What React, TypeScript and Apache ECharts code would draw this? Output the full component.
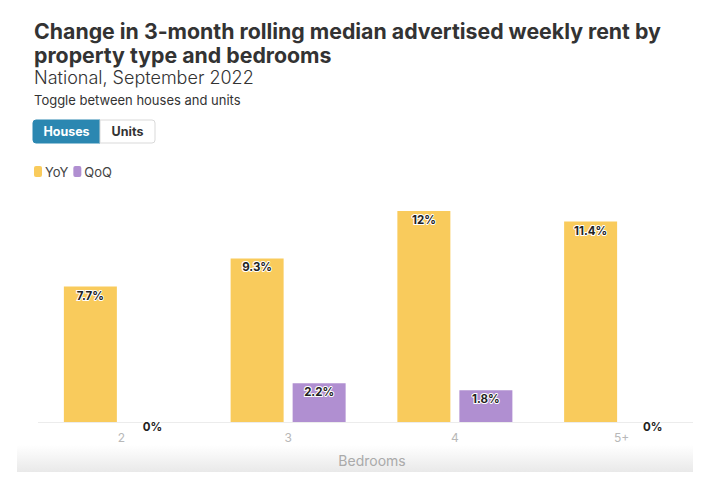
import React, { useEffect, useRef } from "react";
import * as echarts from "echarts";

const categories = ["2", "3", "4", "5+"];
const yoyValues = [7.7, 9.3, 12, 11.4];
const qoqValues = [0, 2.2, 1.8, 0];
const seriesNames = ["YoY", "QoQ"];
const titleLines = [
  "Change in 3-month rolling median advertised weekly rent by",
  "property type and bedrooms",
];
const subtitle = "National, September 2022";
const toggleNote = "Toggle between houses and units";
const toggleOptions = ["Houses", "Units"];
const axisName = "Bedrooms";

const FONT = "Inter, 'Open Sans', sans-serif";
const YELLOW = "#F9CB5C";
const PURPLE = "#B08FD1";

export default function App() {
  const ref = useRef<HTMLDivElement>(null);
  useEffect(() => {
    if (!ref.current) return;
    const chart = echarts.init(ref.current, undefined, { renderer: "svg" });
    const label = {
      show: true,
      position: "insideTop",
      distance: 3,
      formatter: (p: any) => `${p.value}%`,
      fontFamily: FONT,
      fontWeight: 700,
      fontSize: 11.5,
      color: "#222",
      textBorderColor: "#fff",
      textBorderWidth: 2,
    };
    const withZeroLabel = (vals: number[]) =>
      vals.map((v) => (v === 0 ? { value: v, label: { offset: [0, -4] } } : v));
    chart.setOption({
      animation: false,
      textStyle: { fontFamily: FONT },
      grid: { left: 38, top: 211, width: 667, bottom: 59, containLabel: false },
      legend: {
        left: 34,
        top: 165,
        padding: 0,
        itemWidth: 8,
        itemHeight: 11,
        itemGap: 5,
        icon: "roundRect",
        textStyle: { fontSize: 13, color: "#444", fontFamily: FONT, padding: [0, 0, 0, -2] },
        data: seriesNames,
      },
      xAxis: {
        type: "category",
        data: categories,
        axisLine: { show: false },
        axisTick: { show: false },
        axisLabel: { color: "#b8b8b8", fontSize: 12, margin: 9, fontFamily: FONT },
      },
      yAxis: {
        type: "value",
        min: 0,
        max: 12,
        show: false,
        splitLine: { show: false },
      },
      series: [
        {
          name: seriesNames[0],
          type: "bar",
          data: withZeroLabel(yoyValues),
          barWidth: 53,
          barGap: "17%",
          itemStyle: { color: YELLOW },
          label,
        },
        {
          name: seriesNames[1],
          type: "bar",
          data: withZeroLabel(qoqValues),
          barWidth: 53,
          itemStyle: { color: PURPLE },
          label,
        },
      ],
      graphic: [
        {
          type: "rect",
          z: -1,
          shape: { x: 17, y: 445, width: 676, height: 27 },
          style: {
            fill: new echarts.graphic.LinearGradient(0, 0, 0, 1, [
              { offset: 0, color: "#ffffff" },
              { offset: 1, color: "#e9e9e9" },
            ]),
          },
        },
        {
          type: "line",
          z: 0,
          shape: { x1: 38, y1: 422.5, x2: 693, y2: 422.5 },
          style: { stroke: "#ececec", lineWidth: 1 },
        },
        {
          type: "text",
          x: 372,
          y: 460,
          style: {
            text: axisName,
            fill: "#aaa",
            font: `14px ${FONT}`,
            align: "center",
            verticalAlign: "middle",
          },
        },
        {
          type: "text",
          x: 34,
          y: 19,
          style: {
            text: titleLines.join("\n"),
            fill: "#333",
            font: `bold 21.3px ${FONT}`,
            lineHeight: 24,
          },
        },
        {
          type: "text",
          x: 34,
          y: 68,
          style: { text: subtitle, fill: "#333", font: `300 18px ${FONT}` },
        },
        {
          type: "text",
          x: 34,
          y: 93,
          style: { text: toggleNote, fill: "#333", font: `13px ${FONT}` },
        },
        {
          type: "rect",
          shape: { x: 33, y: 120, width: 67, height: 23, r: [3, 0, 0, 3] },
          style: { fill: "#2B87B1", stroke: "#2B87B1", lineWidth: 1 },
        },
        {
          type: "rect",
          shape: { x: 100, y: 120, width: 55, height: 23, r: [0, 3, 3, 0] },
          style: { fill: "#fff", stroke: "#d9d9d9", lineWidth: 1 },
        },
        {
          type: "text",
          x: 66.5,
          y: 131.5,
          style: {
            text: toggleOptions[0],
            fill: "#fff",
            font: `bold 12.5px ${FONT}`,
            align: "center",
            verticalAlign: "middle",
          },
        },
        {
          type: "text",
          x: 127.5,
          y: 131.5,
          style: {
            text: toggleOptions[1],
            fill: "#333",
            font: `bold 12.5px ${FONT}`,
            align: "center",
            verticalAlign: "middle",
          },
        },
      ],
    });
    return () => chart.dispose();
  }, []);
  return (
    <div
      ref={ref}
      style={{ position: "fixed", left: 0, top: 0, width: 715, height: 481, background: "#fff" }}
    />
  );
}
